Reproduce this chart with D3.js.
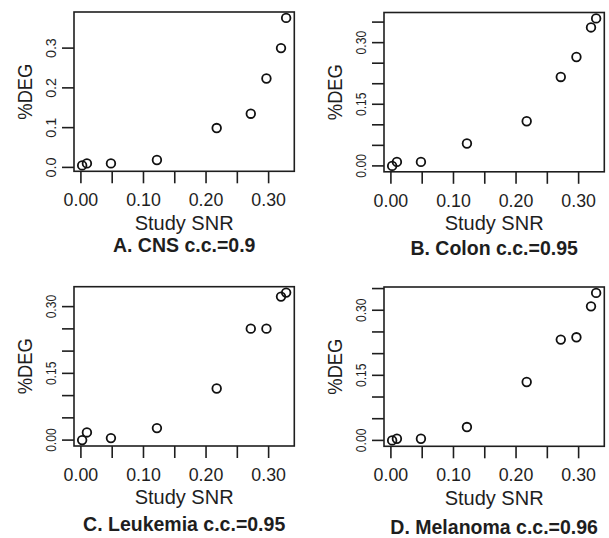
<!DOCTYPE html>
<html><head><meta charset="utf-8">
<script src="https://cdn.jsdelivr.net/npm/d3@7"></script>
<style>body{margin:0;background:#fff}svg{display:block}</style>
</head><body>
<svg id="c" width="609" height="538"></svg>
<script>
// ---- data ----
const snr = [0.002, 0.0096, 0.048, 0.1215, 0.217, 0.2715, 0.2965, 0.3198, 0.328];
const degCNS = [0.005, 0.010, 0.010, 0.0186, 0.099, 0.135, 0.2236, 0.300, 0.376];
const degColon = [0.000, 0.0097, 0.0097, 0.0545, 0.1087, 0.2165, 0.265, 0.337, 0.359];
const degLeukemia = [0.000, 0.0172, 0.0045, 0.027, 0.116, 0.2505, 0.2505, 0.3225, 0.3315];
const degMelanoma = [0.000, 0.0038, 0.0038, 0.0308, 0.1346, 0.2323, 0.2377, 0.309, 0.340];
const captions = ["A. CNS c.c.=0.9", "B. Colon c.c.=0.95", "C. Leukemia c.c.=0.95", "D. Melanoma c.c.=0.96"];
const xTicks = [0, 0.05, 0.10, 0.15, 0.20, 0.25, 0.30];
const xTickLabels = [0, 0.10, 0.20, 0.30];
const yTicksA = [0, 0.1, 0.2, 0.3];
const yTicksB = [0, 0.05, 0.10, 0.15, 0.20, 0.25, 0.30, 0.35];
const yTickLabelsB = [0, 0.15, 0.30];
const xLabel = "Study SNR", yLabel = "%DEG";

// ---- layout ----
const panels = [
  {ys: degCNS, left: 74, top: 12, capY: 251.5, yt: yTicksA, yl: yTicksA, fmt: ".1f"},
  {ys: degColon, left: 384, top: 12.5, capY: 255, yt: yTicksB, yl: yTickLabelsB, fmt: ".2f"},
  {ys: degLeukemia, left: 74, top: 286.7, capY: 530.5, yt: yTicksB, yl: yTickLabelsB, fmt: ".2f"},
  {ys: degMelanoma, left: 384, top: 287, capY: 534, yt: yTicksB, yl: yTickLabelsB, fmt: ".2f"}
];
const W = 220.3, H = 159.3;
const ink = "#1e1e1e";
const font = "'Liberation Sans', Arial, Helvetica, sans-serif";
const svg = d3.select("#c");

function pad(ext){ const r = ext[1]-ext[0]; return [ext[0]-0.04*r, ext[1]+0.04*r]; }

panels.forEach((p, i) => {
  const g = svg.append("g").attr("transform", `translate(${p.left},${p.top})`);
  const x = d3.scaleLinear().domain(pad(d3.extent(snr))).range([0, W]);
  const y = d3.scaleLinear().domain(pad(d3.extent(p.ys))).range([H, 0]);

  // x ticks
  xTicks.forEach(t => {
    g.append("line").attr("x1", x(t)).attr("x2", x(t)).attr("y1", H).attr("y2", H + 12)
      .attr("stroke", ink).attr("stroke-width", 1.6);
  });
  xTickLabels.forEach(t => {
    g.append("text").attr("x", x(t)).attr("y", H + 35).attr("text-anchor", "middle")
      .attr("font-family", font).attr("font-size", 17.8).attr("fill", ink)
      .text(d3.format(".2f")(t));
  });
  // y ticks
  const yd = y.domain();
  p.yt.filter(t => t >= yd[0] && t <= yd[1]).forEach(t => {
    g.append("line").attr("x1", -12).attr("x2", 0).attr("y1", y(t)).attr("y2", y(t))
      .attr("stroke", ink).attr("stroke-width", 1.6);
  });
  p.yl.forEach(t => {
    const s = d3.format(p.fmt)(t);
    g.append("text").attr("transform", `translate(-18,${y(t)}) rotate(-90)`)
      .attr("text-anchor", "middle").attr("font-family", font).attr("font-size", 15.5)
      .attr("fill", ink).attr("textLength", s.length === 3 ? 20 : 23.5)
      .attr("lengthAdjust", "spacingAndGlyphs").text(s);
  });
  // box
  g.append("rect").attr("x", 0).attr("y", 0).attr("width", W).attr("height", H)
    .attr("fill", "none").attr("stroke", ink).attr("stroke-width", 1.6);
  // points
  g.selectAll("circle").data(p.ys.map((v, k) => [snr[k], v])).enter().append("circle")
    .attr("cx", d => x(d[0])).attr("cy", d => y(d[1])).attr("r", 4.3)
    .attr("fill", "none").attr("stroke", "#111").attr("stroke-width", 1.8);
  // axis labels
  g.append("text").attr("x", W / 2).attr("y", H + 58.5).attr("text-anchor", "middle")
    .attr("font-family", font).attr("font-size", 20).attr("fill", ink).text(xLabel);
  g.append("text").attr("transform", `translate(-42,${H / 2}) rotate(-90)`)
    .attr("text-anchor", "middle").attr("font-family", font).attr("font-size", 21)
    .attr("fill", ink).attr("textLength", 56).attr("lengthAdjust", "spacingAndGlyphs").text(yLabel);
  // caption
  svg.append("text").attr("x", p.left + W / 2).attr("y", p.capY).attr("text-anchor", "middle")
    .attr("font-family", font).attr("font-size", 19.5).attr("font-weight", "bold")
    .attr("fill", ink).text(captions[i]);
});
</script>
</body></html>
